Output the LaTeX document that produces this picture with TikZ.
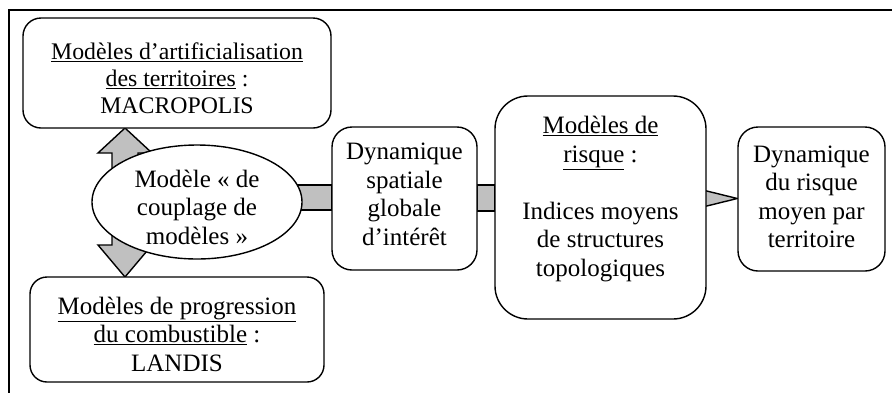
\documentclass[tikz,border=0pt]{standalone}
\usepackage{fontspec}
\setmainfont{Liberation Serif}
\usetikzlibrary{backgrounds,shapes.geometric}
\definecolor{arrowgray}{RGB}{192,192,192}
\tikzset{
  boxnode/.style={draw, fill=white, line width=1.4pt, inner sep=0pt},
  txtnode/.style={align=center, inner sep=0pt, font=\fontsize{25}{28.5}\selectfont},
  ellnode/.style={draw, fill=white, ellipse, line width=1.4pt, inner sep=0pt},
  blockarrow/.style={draw, fill=arrowgray, line width=1.4pt, line join=miter},
  framestyle/.style={draw, line width=1.4pt}
}
\begin{document}
\begin{tikzpicture}[x=1pt,y=-1pt]
\useasboundingbox (0,0) rectangle (892,392);
\draw[framestyle] (893,10) -- (9,10) -- (9,393);

\node[boxnode, rounded corners=18pt, minimum width=308pt, minimum height=110pt] (b1) at (177,73) {};
\node[txtnode, font=\fontsize{23.8}{27}\selectfont] (t1) at (177,78)
  {\underline{Modèles d’artificialisation}\\\underline{des territoires} :\\MACROPOLIS};
\node[boxnode, rounded corners=17pt, minimum width=294pt, minimum height=105pt] (b2) at (177,329.5) {};
\node[txtnode] (t2) at (177,334)
  {\underline{Modèles de progression}\\\underline{du combustible} :\\LANDIS};
\node[ellnode, minimum width=210pt, minimum height=114pt] (el) at (197,202) {};
\node[txtnode] (tel) at (197,207)
  {Modèle « de\\couplage de\\modèles »};
\node[boxnode, rounded corners=20pt, minimum width=145pt, minimum height=143pt] (b3) at (404.5,198.5) {};
\node[txtnode] (t3) at (404.5,194.5)
  {Dynamique\\spatiale\\globale\\d’intérêt};
\node[boxnode, rounded corners=33pt, minimum width=211pt, minimum height=223pt] (b4) at (600.5,207.5) {};
\node[txtnode] (t4) at (600.5,199)
  {\underline{Modèles de}\\\underline{risque} :\\[28.5pt]Indices moyens\\de structures\\topologiques};
\node[boxnode, rounded corners=20pt, minimum width=147pt, minimum height=144pt] (b5) at (811.5,199) {};
\node[txtnode] (t5) at (811.5,197)
  {Dynamique\\du risque\\moyen par\\territoire};

\begin{scope}[on background layer]
  % double block arrow between b1 and b2, behind the ellipse
  \coordinate (uptip) at (125,128);
  \coordinate (downtip) at (125,277);
  \draw[blockarrow] (uptip) -- (152,153) -- (138,153) -- (138,245) -- (152,245)
    -- (downtip) -- (98,245) -- (112,245) -- (112,153) -- (98,153) -- cycle;
  % bar ellipse -> b3
  \draw[blockarrow] (el.center |- 0,185) rectangle (b3.west |- 0,210);
  % bar b3 -> b4
  \draw[blockarrow] (b3.east |- 0,185) rectangle (b4.west |- 0,211);
  % arrowhead b4 -> b5
  \draw[blockarrow] ([xshift=-4pt]b4.east |- 0,190) -- (b5.west |- 0,198.5)
    -- ([xshift=-4pt]b4.east |- 0,207) -- cycle;
\end{scope}
\end{tikzpicture}
\end{document}
